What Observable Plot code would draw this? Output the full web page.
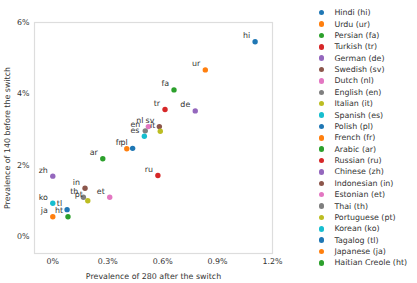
<!DOCTYPE html>
<html><head><meta charset="utf-8">
<script src="https://cdn.jsdelivr.net/npm/d3@7"></script>
<script src="https://cdn.jsdelivr.net/npm/@observablehq/plot@0.6"></script>
<style>
body{margin:0;background:#fff;font-family:"DejaVu Sans",sans-serif;}
#wrap{position:relative;width:417px;height:283px;}
#legend{position:absolute;left:319px;top:7px;font-size:7.9px;color:#333;}
.row{height:11.38px;display:flex;align-items:center;white-space:nowrap;}
.sw{width:5.4px;height:5.4px;border-radius:50%;margin-right:10px;margin-left:0;}
</style>
</head><body>
<div id="wrap"><div id="legend"></div></div>
<script>
const codes = ["hi","ur","fa","tr","de","sv","nl","en","it","es","pl","fr","ar","ru","zh","in","et","th","pt","ko","tl","ja","ht"];
const names = ["Hindi","Urdu","Persian","Turkish","German","Swedish","Dutch","English","Italian","Spanish","Polish","French","Arabic","Russian","Chinese","Indonesian","Estonian","Thai","Portuguese","Korean","Tagalog","Japanese","Haitian Creole"];
const after280 = [1.105,0.833,0.662,0.613,0.778,0.582,0.522,0.505,0.587,0.500,0.436,0.404,0.273,0.574,0.000,0.176,0.311,0.167,0.191,0.000,0.078,0.000,0.083];
const before140 = [5.46,4.67,4.11,3.56,3.52,3.08,3.08,2.96,2.95,2.81,2.47,2.46,2.18,1.71,1.69,1.35,1.10,1.10,1.00,0.93,0.75,0.55,0.55];
const palette = ["#1f77b4","#ff7f0e","#2ca02c","#d62728","#9467bd","#8c564b","#e377c2","#7f7f7f","#bcbd22","#17becf"];
const xTicks = [0,0.3,0.6,0.9,1.2];
const yTicks = [0,2,4,6];

const data = codes.map((c,i)=>({code:c,name:names[i],x:after280[i],y:before140[i],color:palette[i%palette.length]}));

const chart = Plot.plot({
  width:417, height:283,
  marginLeft:34, marginRight:145, marginTop:22, marginBottom:30,
  style:{fontFamily:"DejaVu Sans",fontSize:"7.9px",color:"#333",background:"#fff"},
  x:{domain:[-0.1,1.2]},
  y:{domain:[-0.48,6.0]},
  marks:[
    Plot.frame({stroke:"#ddd",strokeWidth:1.2}),
    Plot.axisX({ticks:xTicks,tickFormat:d=>d+"%",tickSize:0,tickPadding:5,label:"Prevalence of 280 after the switch",labelAnchor:"center",labelOffset:25,labelArrow:"none"}),
    Plot.axisY({ticks:yTicks,tickFormat:d=>d+"%",tickSize:0,tickPadding:5,label:"Prevalence of 140 before the switch",labelAnchor:"center",labelOffset:30,labelArrow:"none"}),
    Plot.dot(data,{x:"x",y:"y",fill:d=>d.color,r:2.7}),
    Plot.text(data,{x:"x",y:"y",text:"code",textAnchor:"end",dx:-5,dy:-6,fill:"#333"})
  ]
});
document.getElementById("wrap").prepend(chart);

const lg = document.getElementById("legend");
data.forEach(d=>{
  const r=document.createElement("div");r.className="row";
  const s=document.createElement("span");s.className="sw";s.style.background=d.color;
  const t=document.createElement("span");t.textContent=`${d.name} (${d.code})`;
  r.append(s,t);lg.append(r);
});
</script>
</body></html>
